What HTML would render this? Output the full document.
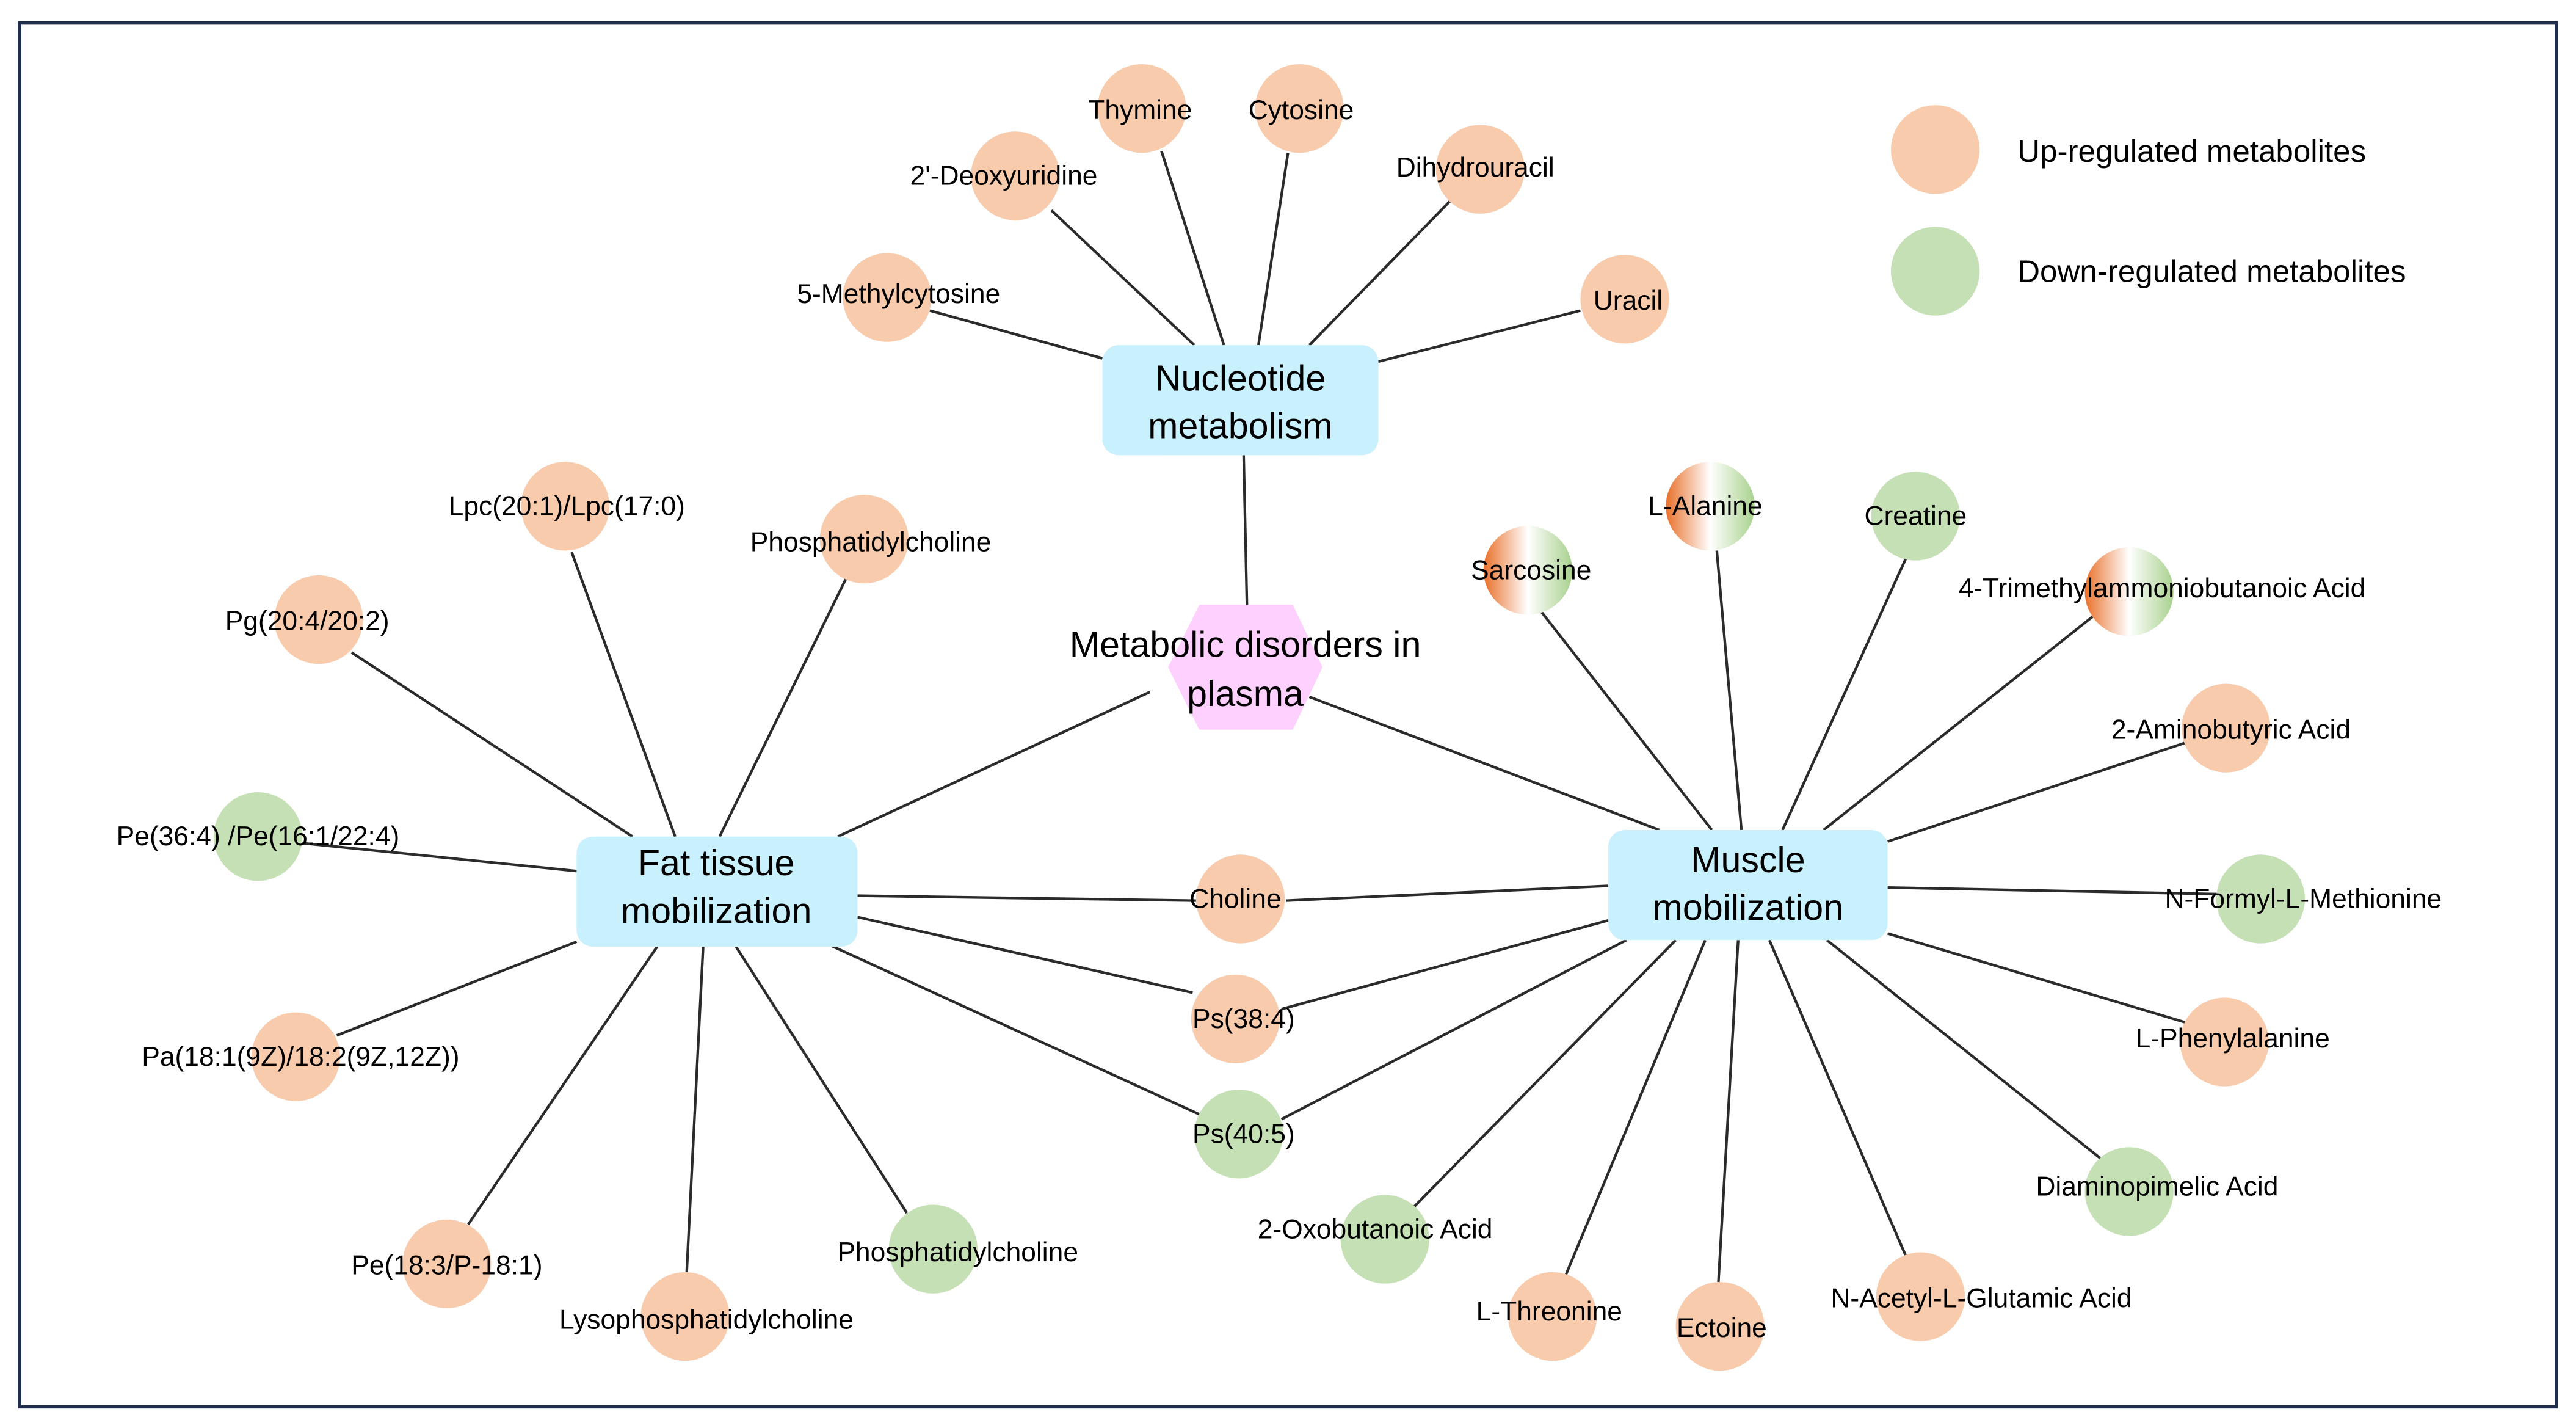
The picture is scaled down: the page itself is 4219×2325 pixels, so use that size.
<!DOCTYPE html>
<html><head><meta charset="utf-8"><style>
html,body{margin:0;padding:0;background:#fff;}
svg{display:block;}
text{font-family:"Liberation Sans","DejaVu Sans",sans-serif;fill:#000;}
.l{font-size:16.5px;text-anchor:middle;dominant-baseline:central;}
.b{font-size:22px;text-anchor:middle;dominant-baseline:central;}
line{stroke:#2b2b2b;stroke-width:1.6;}
.o{fill:#f8cbad;}
.g{fill:#c5e0b4;}
</style></head><body>
<svg width="4219" height="2325" viewBox="0 0 1568 864" preserveAspectRatio="none" xmlns="http://www.w3.org/2000/svg">
<defs>
<linearGradient id="gr" x1="0" y1="0" x2="1" y2="0">
<stop offset="0" stop-color="#e8702a"/>
<stop offset="0.5" stop-color="#ffffff"/>
<stop offset="1" stop-color="#a9d18e"/>
</linearGradient>
</defs>
<rect x="0" y="0" width="1568" height="864" fill="#fff"/>
<rect x="12" y="14" width="1544" height="842" fill="none" stroke="#1f2d4d" stroke-width="2"/>

<!-- lines -->
<line x1="757" y1="277" x2="759" y2="368"/>
<line x1="700" y1="421" x2="510" y2="509"/>
<line x1="797" y1="424" x2="1010" y2="505"/>
<line x1="745" y1="210" x2="707" y2="92"/>
<line x1="766" y1="210" x2="784" y2="93"/>
<line x1="727" y1="210" x2="640" y2="128"/>
<line x1="797" y1="210" x2="883" y2="122"/>
<line x1="671" y1="218" x2="566" y2="189"/>
<line x1="839" y1="220" x2="962" y2="189"/>

<line x1="411" y1="509" x2="348" y2="336"/>
<line x1="438" y1="509" x2="515" y2="352"/>
<line x1="385" y1="509" x2="214" y2="397"/>
<line x1="351" y1="530" x2="184" y2="513"/>
<line x1="351" y1="573" x2="205" y2="630"/>
<line x1="400" y1="576" x2="285" y2="745"/>
<line x1="428" y1="576" x2="418" y2="774"/>
<line x1="448" y1="576" x2="552" y2="738"/>

<line x1="522" y1="545" x2="728" y2="548"/>
<line x1="783" y1="548" x2="979" y2="539"/>
<line x1="522" y1="558" x2="726" y2="604"/>
<line x1="979" y1="560" x2="780" y2="614"/>
<line x1="505" y1="575" x2="730" y2="678"/>
<line x1="990" y1="572" x2="780" y2="681"/>

<line x1="1042" y1="505" x2="938" y2="372"/>
<line x1="1060" y1="505" x2="1045" y2="335"/>
<line x1="1085" y1="505" x2="1160" y2="340"/>
<line x1="1110" y1="505" x2="1274" y2="375"/>
<line x1="1149" y1="512" x2="1330" y2="452"/>
<line x1="1149" y1="540" x2="1350" y2="544"/>
<line x1="1149" y1="568" x2="1330" y2="622"/>
<line x1="1112" y1="572" x2="1280" y2="706"/>
<line x1="1077" y1="572" x2="1160" y2="764"/>
<line x1="1058" y1="572" x2="1046" y2="780"/>
<line x1="1038" y1="572" x2="953" y2="776"/>
<line x1="1020" y1="572" x2="860" y2="735"/>

<!-- hub shapes -->
<rect x="671" y="210" width="168" height="67" rx="10" fill="#c9f0fd"/>
<polygon points="711,406 730,368 787,368 805,406 787,444 730,444" fill="#fdd0fd"/>
<rect x="351" y="509" width="171" height="67" rx="10" fill="#c9f0fd"/>
<rect x="979" y="505" width="170" height="67" rx="10" fill="#c9f0fd"/>

<!-- circles -->
<circle class="o" cx="1178" cy="91" r="27"/>
<circle class="g" cx="1178" cy="165" r="27"/>
<circle class="o" cx="695" cy="66" r="27"/>
<circle class="o" cx="791" cy="66" r="27"/>
<circle class="o" cx="618" cy="107" r="27"/>
<circle class="o" cx="901" cy="103" r="27"/>
<circle class="o" cx="540" cy="181" r="27"/>
<circle class="o" cx="989" cy="182" r="27"/>

<circle class="o" cx="344" cy="308" r="27"/>
<circle class="o" cx="526" cy="328" r="27"/>
<circle class="o" cx="194" cy="377" r="27"/>
<circle class="g" cx="157" cy="509" r="27"/>
<circle class="o" cx="180" cy="643" r="27"/>
<circle class="o" cx="272" cy="769" r="27"/>
<circle class="o" cx="417" cy="801" r="27"/>
<circle class="g" cx="568" cy="760" r="27"/>

<circle class="o" cx="755" cy="547" r="27"/>
<circle class="o" cx="752" cy="620" r="27"/>
<circle class="g" cx="754" cy="690" r="27"/>

<circle fill="url(#gr)" cx="930" cy="347" r="27"/>
<circle fill="url(#gr)" cx="1041" cy="308" r="27"/>
<circle class="g" cx="1166" cy="314" r="27"/>
<circle fill="url(#gr)" cx="1296" cy="360" r="27"/>
<circle class="o" cx="1355" cy="443" r="27"/>
<circle class="g" cx="1376" cy="547" r="27"/>
<circle class="o" cx="1354" cy="634" r="27"/>
<circle class="g" cx="1296" cy="725" r="27"/>
<circle class="o" cx="1169" cy="789" r="27"/>
<circle class="o" cx="1047" cy="807" r="27"/>
<circle class="o" cx="945" cy="801" r="27"/>
<circle class="g" cx="843" cy="754" r="27"/>

<!-- hub text -->
<text class="b" x="755" y="230">Nucleotide</text>
<text class="b" x="755" y="259">metabolism</text>
<text class="b" x="758" y="392">Metabolic disorders in</text>
<text class="b" x="758" y="422">plasma</text>
<text class="b" x="436" y="525">Fat tissue</text>
<text class="b" x="436" y="554">mobilization</text>
<text class="b" x="1064" y="523">Muscle</text>
<text class="b" x="1064" y="552">mobilization</text>

<!-- legend -->
<text x="1228" y="92" style="font-size:19px;dominant-baseline:central">Up-regulated metabolites</text>
<text x="1228" y="165" style="font-size:19px;dominant-baseline:central">Down-regulated metabolites</text>

<!-- labels -->
<text class="l" x="694" y="67">Thymine</text>
<text class="l" x="792" y="67">Cytosine</text>
<text class="l" x="611" y="107">2'-Deoxyuridine</text>
<text class="l" x="898" y="102">Dihydrouracil</text>
<text class="l" x="547" y="179">5-Methylcytosine</text>
<text class="l" x="991" y="183">Uracil</text>

<text class="l" x="345" y="308">Lpc(20:1)/Lpc(17:0)</text>
<text class="l" x="530" y="330">Phosphatidylcholine</text>
<text class="l" x="187" y="378">Pg(20:4/20:2)</text>
<text class="l" x="157" y="509">Pe(36:4) /Pe(16:1/22:4)</text>
<text class="l" x="183" y="643">Pa(18:1(9Z)/18:2(9Z,12Z))</text>
<text class="l" x="272" y="770">Pe(18:3/P-18:1)</text>
<text class="l" x="430" y="803">Lysophosphatidylcholine</text>
<text class="l" x="583" y="762">Phosphatidylcholine</text>

<text class="l" x="752" y="547">Choline</text>
<text class="l" x="757" y="620">Ps(38:4)</text>
<text class="l" x="757" y="690">Ps(40:5)</text>

<text class="l" x="932" y="347">Sarcosine</text>
<text class="l" x="1038" y="308">L-Alanine</text>
<text class="l" x="1166" y="314">Creatine</text>
<text class="l" x="1316" y="358">4-Trimethylammoniobutanoic Acid</text>
<text class="l" x="1358" y="444">2-Aminobutyric Acid</text>
<text class="l" x="1402" y="547">N-Formyl-L-Methionine</text>
<text class="l" x="1359" y="632">L-Phenylalanine</text>
<text class="l" x="1313" y="722">Diaminopimelic Acid</text>
<text class="l" x="1206" y="790">N-Acetyl-L-Glutamic Acid</text>
<text class="l" x="1048" y="808">Ectoine</text>
<text class="l" x="943" y="798">L-Threonine</text>
<text class="l" x="837" y="748">2-Oxobutanoic Acid</text>
</svg>
</body></html>
